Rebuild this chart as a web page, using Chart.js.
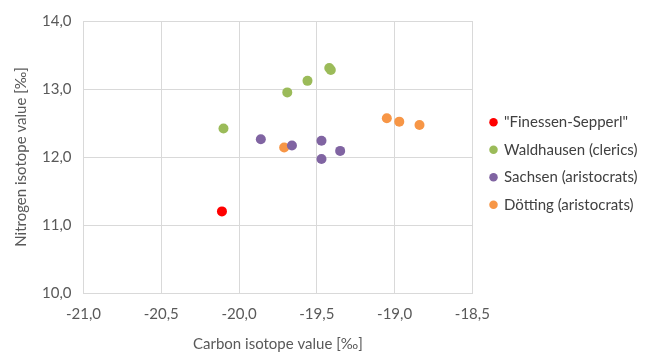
<!DOCTYPE html>
<html>
<head>
<meta charset="utf-8">
<script src="https://cdn.jsdelivr.net/npm/chart.js@4"></script>
<style>
  html, body { margin: 0; padding: 0; background: #fff; }
  #wrap { width: 651px; height: 353px; }
</style>
</head>
<body>
<div id="wrap"><canvas id="isoChart"></canvas></div>
<script>
// Datos: carbono (x) / nitrogeno (y)
const seriesNames = ['"Finessen-Sepperl"', 'Waldhausen (clerics)', 'Sachsen (aristocrats)', 'Dötting (aristocrats)'];
const seriesColors = ['#FF0000', '#9BBB59', '#8064A2', '#F79646'];

const finessenX = [-20.11];
const finessenY = [11.20];
const waldhausenX = [-20.10, -19.69, -19.56, -19.42, -19.41];
const waldhausenY = [12.42, 12.95, 13.12, 13.31, 13.28];
const sachsenX = [-19.86, -19.66, -19.47, -19.47, -19.35];
const sachsenY = [12.26, 12.17, 12.24, 11.97, 12.09];
const dottingX = [-19.71, -19.05, -18.97, -18.84];
const dottingY = [12.14, 12.57, 12.52, 12.47];

const xTicks = [-21.0, -20.5, -20.0, -19.5, -19.0, -18.5];
const yTicks = [10.0, 11.0, 12.0, 13.0, 14.0];

// mueve la leyenda un poco arriba y a la izquierda, como en el original
const legendShift = {
    id: 'legendShift',
    afterLayout: function(chart) {
        const lg = chart.legend;
        if (!lg) return;
        const dy = -19;
        lg.top += dy;
        lg.bottom += dy;
        const dx = 478 - lg.left;
        lg.left += dx;
        lg.right += dx;
    }
};

const App = {
    chart: null,

    toPoints: function(xs, ys) {
        return xs.map((x, i) => ({ x: x, y: ys[i] }));
    },

    fmt: function(v) {
        return Number(v).toFixed(1).replace('.', ',');
    },

    init: function() {
        const allX = [finessenX, waldhausenX, sachsenX, dottingX];
        const allY = [finessenY, waldhausenY, sachsenY, dottingY];
        const datasets = seriesNames.map((name, i) => ({
            label: name,
            data: this.toPoints(allX[i], allY[i]),
            backgroundColor: seriesColors[i],
            borderColor: seriesColors[i],
            pointRadius: 5,
            pointHoverRadius: 5,
            borderWidth: 0
        }));

        const tickFont = { family: 'Lato', size: 15 };
        const ctx = document.getElementById('isoChart').getContext('2d');
        this.chart = new Chart(ctx, {
            type: 'scatter',
            data: { datasets: datasets },
            plugins: [legendShift],
            options: {
                responsive: true,
                maintainAspectRatio: false,
                animation: false,
                layout: { padding: { top: 12, right: 9, left: 12, bottom: 0 } },
                plugins: {
                    tooltip: { enabled: false },
                    legend: {
                        position: 'right',
                        maxWidth: 220,
                        labels: {
                            usePointStyle: true,
                            pointStyle: 'circle',
                            boxWidth: 6,
                            boxHeight: 6,
                            padding: 12.5,
                            color: '#404040',
                            font: { family: 'Lato', size: 15 }
                        }
                    }
                },
                scales: {
                    x: {
                        type: 'linear',
                        min: xTicks[0],
                        max: xTicks[xTicks.length - 1],
                        afterBuildTicks: (axis) => { axis.ticks = xTicks.map(v => ({ value: v })); },
                        ticks: { color: '#595959', font: tickFont, padding: 12, callback: (v) => this.fmt(v) },
                        grid: { color: '#D9D9D9', drawTicks: false },
                        border: { color: '#D9D9D9' },
                        title: { display: true, text: 'Carbon isotope value [‰]', color: '#595959', font: tickFont, padding: { top: 0, bottom: 0 } }
                    },
                    y: {
                        type: 'linear',
                        min: yTicks[0],
                        max: yTicks[yTicks.length - 1],
                        afterBuildTicks: (axis) => { axis.ticks = yTicks.map(v => ({ value: v })); },
                        ticks: { color: '#595959', font: tickFont, padding: 12, callback: (v) => this.fmt(v) },
                        grid: { color: '#D9D9D9', drawTicks: false },
                        border: { color: '#D9D9D9' },
                        title: { display: true, text: 'Nitrogen isotope value [‰]', color: '#595959', font: tickFont, padding: { top: 0, bottom: 0 } }
                    }
                }
            }
        });
    }
};

document.addEventListener('DOMContentLoaded', () => {
    App.init();
});
</script>
</body>
</html>
